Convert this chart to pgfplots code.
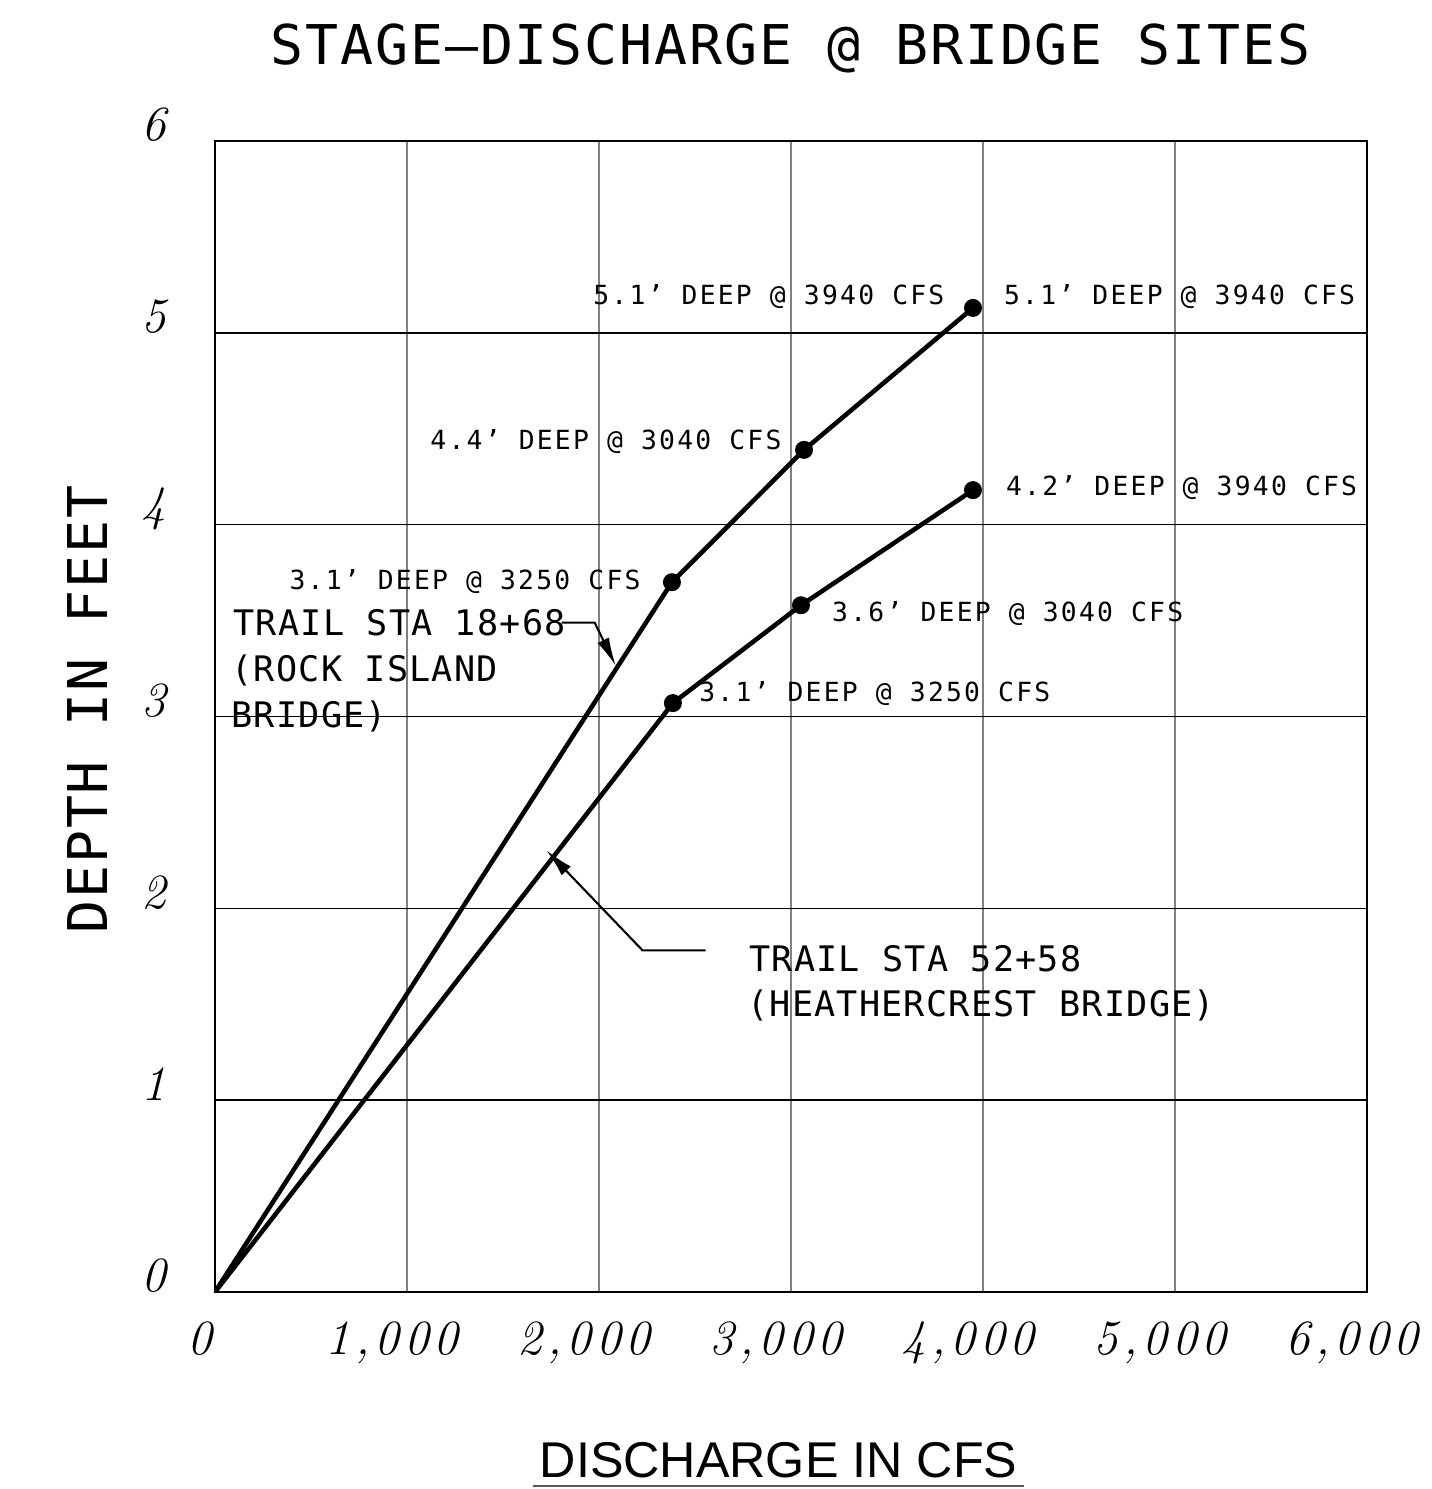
\documentclass[border=0pt]{standalone}
\usepackage{fontspec}
\usepackage{pgfplots}
\pgfplotsset{compat=1.18}
\usetikzlibrary{arrows.meta}
\newfontfamily\cadA[LetterSpace=8.5]{DejaVu Sans Mono}
\newfontfamily\cadB[LetterSpace=3.5]{DejaVu Sans Mono}
\newfontfamily\arialf{Liberation Sans}
\newfontfamily\tickf[LetterSpace=10]{Latin Modern Roman}
\begin{document}
\begin{tikzpicture}
\begin{axis}[
  at={(2.15cm,1.97cm)}, anchor=south west,
  scale only axis, width=11.52cm, height=11.51cm,
  xmin=0, xmax=6000, ymin=0, ymax=6,
  xtick={0,1000,2000,3000,4000,5000,6000},
  ytick={0,1,2,3,4,5,6},
  scaled x ticks=false,
  xmajorgrids, ymajorgrids,
  x grid style={color=gray, line width=0.7pt},
  y grid style={color=black, line width=0.4pt},
  axis line style={line width=0.8pt},
  major tick length=0pt,
  /pgf/number format/assume math mode=true,
  /pgf/number format/1000 sep={,},
  tick label style={font=\tickf\fontsize{14}{16}\selectfont\itshape},
  xticklabel style={yshift=-0.17cm, xshift=-0.15cm},
  yticklabel style={xshift=-0.36cm, yshift=0.16cm},
]
\addplot[black, line width=1.3pt, mark=*, mark size=1.9pt, mark indices={2,3,4}] coordinates {
  (0,0) (2380,3.70) (3068,4.39) (3948,5.13)
};
\addplot[black, line width=1.3pt, mark=*, mark size=1.9pt, mark indices={2,3,4}] coordinates {
  (0,0) (2385,3.07) (3052,3.58) (3948,4.18)
};
\end{axis}
\begin{scope}[x=0.01cm, y=-0.01cm, yshift=14.89cm]
  % title
  \node[anchor=base, inner sep=0pt, font=\cadB\fontsize{15.6}{18}\selectfont] at (791,65) {STAGE—DISCHARGE @ BRIDGE SITES};
  % y label
  \node[anchor=base, rotate=90, inner sep=0pt, font=\cadB\fontsize{15.6}{18}\selectfont] at (108,710) {DEPTH IN FEET};
  % x label
  \node[anchor=base, inner sep=0pt, font=\arialf\fontsize{14.3}{17}\selectfont] at (779,1478) {DISCHARGE IN CFS};
  \draw[color=black!65, line width=0.6pt] (533,1487) -- (1025,1487);
  % annotations
  \begin{scope}[every node/.style={anchor=base west, inner sep=0pt, font=\cadA\fontsize{7.5}{9}\selectfont}]
    \node at (593,305) {5.1’ DEEP @ 3940 CFS};
    \node at (1004,305) {5.1’ DEEP @ 3940 CFS};
    \node at (430,450) {4.4’ DEEP @ 3040 CFS};
    \node at (1006,496) {4.2’ DEEP @ 3940 CFS};
    \node at (289,590) {3.1’ DEEP @ 3250 CFS};
    \node at (832,622) {3.6’ DEEP @ 3040 CFS};
    \node at (699,702) {3.1’ DEEP @ 3250 CFS};
  \end{scope}
  \begin{scope}[every node/.style={anchor=base west, inner sep=0pt, font=\cadB\fontsize{10}{12}\selectfont}]
    \node at (233,636) {TRAIL STA 18+68};
    \node at (231,682) {(ROCK ISLAND};
    \node at (231,728) {BRIDGE)};
    \node at (749,972) {TRAIL STA 52+58};
    \node at (747,1017) {(HEATHERCREST BRIDGE)};
  \end{scope}
  % leaders
  \draw[line width=0.6pt, -{Latex[length=8pt,width=3.6pt]}] (562,623) -- (595,623) -- (616,666);
  \draw[line width=0.6pt, -{Latex[length=8pt,width=3.6pt]}] (706,951) -- (643,951) -- (547,851);
\end{scope}
\pgfresetboundingbox
\path[use as bounding box] (0,0) rectangle (14.31cm,14.89cm);
\end{tikzpicture}
\end{document}
